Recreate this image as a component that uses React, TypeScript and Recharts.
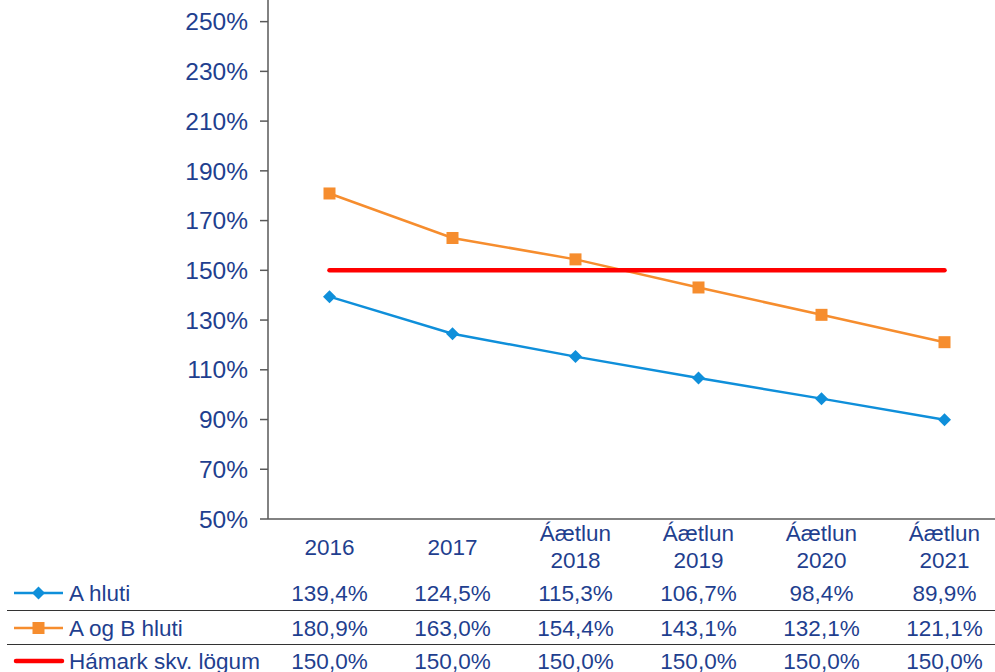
import React from 'react';
import { LineChart, Line, XAxis, YAxis } from 'recharts';

// categories and series values
const categories = ['2016', '2017', 'Áætlun 2018', 'Áætlun 2019', 'Áætlun 2020', 'Áætlun 2021'];
const aHluti = [139.4, 124.5, 115.3, 106.7, 98.4, 89.9];
const aOgBHluti = [180.9, 163.0, 154.4, 143.1, 132.1, 121.1];
const hamark = [150.0, 150.0, 150.0, 150.0, 150.0, 150.0];
const yTicks = [50, 70, 90, 110, 130, 150, 170, 190, 210, 230, 250];
const seriesNames = ['A hluti', 'A og B hluti', 'Hámark skv. lögum'];

const BLUE = '#0F8FDA';
const ORANGE = '#F68D2E';
const RED = '#FF0000';
const TEXT = '#1F3F8F';
const AXIS = '#595959';
const FONT = '"Liberation Sans", Arial, sans-serif';

const data = categories.map((cat, i) => ({
  cat,
  a: aHluti[i],
  ab: aOgBHluti[i],
  max: hamark[i],
}));

const rows = [aHluti, aOgBHluti, hamark];
const fmt = (v: number) => v.toFixed(1).replace('.', ',') + '%';

const Diamond = (props: any) => {
  const { cx, cy } = props;
  if (cx == null || cy == null) return null;
  const r = 6.5;
  return <polygon points={`${cx},${cy - r} ${cx + r},${cy} ${cx},${cy + r} ${cx - r},${cy}`} fill={BLUE} />;
};

const Square = (props: any) => {
  const { cx, cy } = props;
  if (cx == null || cy == null) return null;
  return <rect x={cx - 6} y={cy - 6} width={12} height={12} fill={ORANGE} />;
};

// category label plus the data table column under it
const CategoryTick = (props: any) => {
  const { x, y, payload } = props;
  const i = payload.index;
  const lines = String(payload.value).split(' ');
  return (
    <g fontFamily={FONT} fontSize={22.5} fill={TEXT} textAnchor="middle">
      {lines.length === 1 ? (
        <text x={x} y={y + 28} dominantBaseline="central">{lines[0]}</text>
      ) : (
        lines.map((l, k) => (
          <text key={k} x={x} y={y + 14 + k * 27} dominantBaseline="central">{l}</text>
        ))
      )}
      {rows.map((r, k) => (
        <text key={'v' + k} x={x} y={y + [74, 109, 142][k]} dominantBaseline="central">
          {fmt(r[i])}
        </text>
      ))}
    </g>
  );
};

const RowLabels = () => (
  <svg width={995} height={672} style={{ position: 'absolute', left: 0, top: 0, pointerEvents: 'none' }}>
    <line x1={7} x2={995} y1={610.5} y2={610.5} stroke="#333" strokeWidth={1.2} />
    <line x1={7} x2={995} y1={644.5} y2={644.5} stroke="#333" strokeWidth={1.2} />
    <line x1={14} x2={63} y1={593} y2={593} stroke={BLUE} strokeWidth={2.5} />
    <Diamond cx={38.5} cy={593} />
    <line x1={14} x2={63} y1={628} y2={628} stroke={ORANGE} strokeWidth={2.5} />
    <Square cx={38.5} cy={628} />
    <line x1={16} x2={62} y1={661} y2={661} stroke={RED} strokeWidth={4.5} strokeLinecap="round" />
    {seriesNames.map((n, k) => (
      <text key={n} x={69} y={[593, 628, 661][k]} dominantBaseline="central" fontFamily={FONT} fontSize={22.5} fill={TEXT}>
        {n}
      </text>
    ))}
  </svg>
);

export default function App() {
  return (
    <div style={{ position: 'absolute', left: 0, top: 0, width: 995, height: 672, overflow: 'hidden', background: '#fff', fontFamily: FONT }}>
      <LineChart width={1006} height={672} data={data} margin={{ top: 0, right: 0, bottom: 0, left: 0 }}>
        <XAxis
          dataKey="cat"
          height={153}
          interval={0}
          padding={{ left: 61.5, right: 61.5 }}
          tickLine={false}
          tickSize={0}
          tickMargin={0}
          axisLine={{ stroke: AXIS, strokeWidth: 1.5 }}
          tick={<CategoryTick />}
        />
        <YAxis
          width={268}
          domain={[50, 258.7]}
          ticks={yTicks}
          interval={0}
          tickFormatter={(v: number) => v + '%'}
          tickSize={8}
          tickMargin={12}
          axisLine={{ stroke: AXIS, strokeWidth: 1.5 }}
          tickLine={{ stroke: AXIS, strokeWidth: 1.5 }}
          tick={{ fill: TEXT, fontSize: 24.5, fontFamily: FONT }}
        />
        <Line dataKey="a" name={seriesNames[0]} stroke={BLUE} strokeWidth={2.5} dot={<Diamond />} activeDot={false} isAnimationActive={false} />
        <Line dataKey="ab" name={seriesNames[1]} stroke={ORANGE} strokeWidth={2.5} dot={<Square />} activeDot={false} isAnimationActive={false} />
        <Line dataKey="max" name={seriesNames[2]} stroke={RED} strokeWidth={4.5} strokeLinecap="round" dot={false} activeDot={false} isAnimationActive={false} />
      </LineChart>
      <RowLabels />
    </div>
  );
}
